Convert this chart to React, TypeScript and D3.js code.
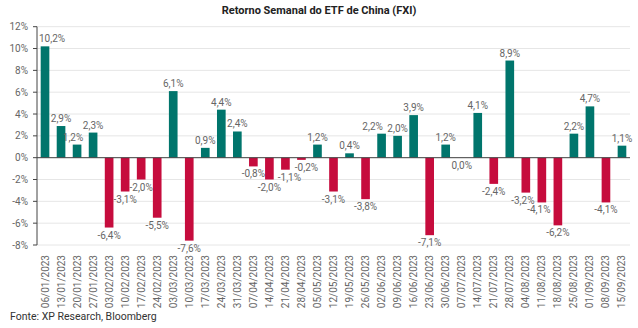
import React, { useEffect, useRef } from "react";
import * as d3 from "d3";

const dates = ["06/01/2023","13/01/2023","20/01/2023","27/01/2023","03/02/2023","10/02/2023","17/02/2023","24/02/2023","03/03/2023","10/03/2023","17/03/2023","24/03/2023","31/03/2023","07/04/2023","14/04/2023","21/04/2023","28/04/2023","05/05/2023","12/05/2023","19/05/2023","26/05/2023","02/06/2023","09/06/2023","16/06/2023","23/06/2023","30/06/2023","07/07/2023","14/07/2023","21/07/2023","28/07/2023","04/08/2023","11/08/2023","18/08/2023","25/08/2023","01/09/2023","08/09/2023","15/09/2023"];
const values = [10.2,2.9,1.2,2.3,-6.4,-3.1,-2.0,-5.5,6.1,-7.6,0.9,4.4,2.4,-0.8,-2.0,-1.1,-0.2,1.2,-3.1,0.4,-3.8,2.2,2.0,3.9,-7.1,1.2,0.0,4.1,-2.4,8.9,-3.2,-4.1,-6.2,2.2,4.7,-4.1,1.1];
const yTicks = [-8,-6,-4,-2,0,2,4,6,8,10,12];
const title = "Retorno Semanal do ETF de China (FXI)";
const source = "Fonte: XP Research, Bloomberg";

const W = 638, H = 328;
const fmt = (v: number) => v.toFixed(1).replace(".", ",") + "%";

export default function App() {
  const ref = useRef<SVGSVGElement>(null);
  useEffect(() => {
    const svg = d3.select(ref.current);
    svg.selectAll("*").remove();
    const left = 37, right = 630, top = 26.7, bottom = 245;
    const x = d3.scaleBand<string>().domain(dates).range([left, right]).paddingInner(0.46).paddingOuter(0.23);
    const y = d3.scaleLinear().domain([-8, 12]).range([bottom, top]);
    const font = "Roboto, 'Noto Sans', sans-serif";
    // label de-collision nudges (px), as in the reference layout
    const nudge: Record<number, number> = { 0: 7, 2: -4, 15: 4, 16: 5, 21: -9, 30: -3, 31: -3 };

    svg.append("text").attr("x", 319).attr("y", 14).attr("text-anchor", "middle")
      .attr("font-family", font).attr("font-size", 11).attr("font-weight", "bold").attr("fill", "#222").text(title);

    const g = svg.append("g");
    g.selectAll("line.grid").data(yTicks).join("line")
      .attr("x1", left).attr("x2", right).attr("y1", d => y(d)).attr("y2", d => y(d))
      .attr("stroke", "#e6e6e6").attr("stroke-width", 1);
    g.selectAll("text.ytick").data(yTicks).join("text")
      .attr("x", left - 9).attr("y", d => y(d)).attr("dy", "0.35em").attr("text-anchor", "end")
      .attr("font-family", font).attr("font-size", 10).attr("fill", "#666").text(d => d + "%");
    g.selectAll("line.tk").data(yTicks).join("line")
      .attr("x1", left - 4).attr("x2", left).attr("y1", d => y(d)).attr("y2", d => y(d))
      .attr("stroke", "#444");

    g.selectAll("rect").data(values).join("rect")
      .attr("x", (_, i) => x(dates[i])!)
      .attr("width", x.bandwidth())
      .attr("y", d => y(Math.max(0, d)))
      .attr("height", d => Math.abs(y(d) - y(0)))
      .attr("fill", d => d >= 0 ? "#00756c" : "#c60c3d");

    g.append("line").attr("x1", left).attr("x2", right).attr("y1", y(0)).attr("y2", y(0)).attr("stroke", "#444").attr("stroke-width", 1);
    g.append("line").attr("x1", left).attr("x2", left).attr("y1", top).attr("y2", bottom).attr("stroke", "#444").attr("stroke-width", 1);

    g.selectAll("text.lbl").data(values).join("text")
      .attr("x", (_, i) => x(dates[i])! + x.bandwidth() / 2 + (nudge[i] || 0))
      .attr("y", d => d > 0 ? y(d) - 4 : y(d) + 11)
      .attr("text-anchor", "middle")
      .attr("font-family", font).attr("font-size", 10).attr("fill", "#666")
      .text(d => fmt(d));

    g.selectAll("text.xl").data(dates).join("text")
      .attr("transform", d => `translate(${x(d)! + x.bandwidth() / 2 + 3.5},${bottom + 10}) rotate(-90)`)
      .attr("text-anchor", "end")
      .attr("font-family", font).attr("font-size", 10).attr("fill", "#666").text(d => d);

    svg.append("text").attr("x", 10).attr("y", 320)
      .attr("font-family", font).attr("font-size", 10.5).attr("fill", "#333").text(source);
  }, []);
  return <svg ref={ref} width={W} height={H} style={{ position: "absolute", left: 0, top: 0 }} />;
}
